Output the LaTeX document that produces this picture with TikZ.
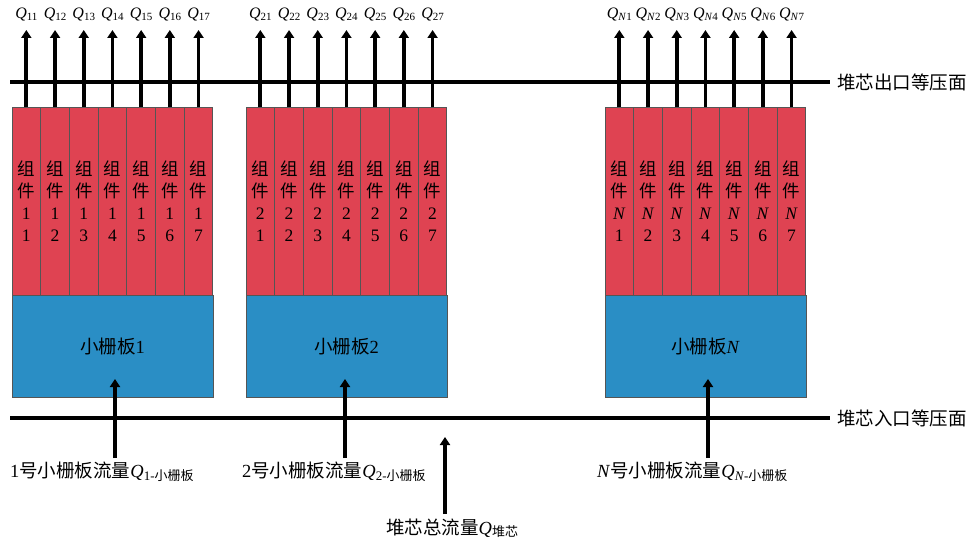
\documentclass[tikz,border=0pt]{standalone}
\usepackage{fontspec}
\setmainfont{Liberation Serif}
\newfontfamily\cjk{Noto Sans CJK SC}
\usetikzlibrary{arrows.meta}
\definecolor{redbox}{HTML}{DF4352}
\definecolor{bluebox}{HTML}{2A8EC5}
\definecolor{edgegray}{HTML}{555555}
\tikzset{
  fuelbox/.style={draw=edgegray, line width=1pt, fill=redbox, minimum width=28.7pt, minimum height=187pt, inner sep=0pt, align=center, font=\fontsize{17.5}{22}\selectfont},
  platebox/.style={draw=edgegray, line width=1pt, fill=bluebox, minimum width=201pt, minimum height=102pt, inner sep=0pt, font=\fontsize{18.5}{20}\selectfont},
  uparrow/.style={line width=3.8pt, -{Triangle[width=10pt,length=8pt]}},
  planeline/.style={line width=3.5pt},
  qlabel/.style={inner sep=0pt, font=\fontsize{16}{16}\selectfont},
  txtlabel/.style={inner sep=0pt, font=\fontsize{18.5}{20}\selectfont}
}
\newcommand{\subsc}[1]{\raisebox{-2pt}{\fontsize{11}{12}\selectfont #1}}
\newcommand{\subsb}[1]{\raisebox{-2.5pt}{\fontsize{13}{14}\selectfont #1}}
\begin{document}
\begin{tikzpicture}[x=1pt,y=-1pt]
\useasboundingbox (0,0) rectangle (971,545);
% planes
\coordinate (outL) at (10,82);
\coordinate (inL) at (10,418);
\node[txtlabel, anchor=west] (outlab) at (837,82) {\cjk 堆芯出口等压面};
\node[txtlabel, anchor=west] (inlab) at (837,418) {\cjk 堆芯入口等压面};
\draw[planeline] (outL) -- ([xshift=-7pt]outlab.west);
\draw[planeline] (inL) -- ([xshift=-7pt]inlab.west);
% groups
\foreach \g/\x/\lab in {1/12/1, 2/246/2, 3/605/{\textit{N}}}{
  \node[platebox] (b\g) at (\x+100.5,346) {{\cjk 小栅板}\lab};
  \foreach \i in {1,...,7}{
    \node[fuelbox] (c\g\i) at (\x+\i*28.7-14.35,201.5) {{\cjk 组}\\{\cjk 件}\\\lab\\\i};
    \coordinate (t\g\i) at (\x+\i*28.7-14.35,30);
    \node[qlabel] (q\g\i) at (\x+\i*28.7-14.35,15) {\textit{Q}\subsc{\lab\i}};
    \draw[uparrow] (c\g\i.north) -- (t\g\i);
  }
}
% bottom flows
\coordinate (e1) at (115,379);
\coordinate (e2) at (345,379);
\coordinate (e3) at (708,379);
\coordinate (et) at (445,437);
\node[txtlabel, anchor=west] (l1) at (10,472) {1{\cjk 号小栅板流量}\textit{Q}\subsb{1-{\cjk 小栅板}}};
\node[txtlabel, anchor=west] (l2) at (242,472) {2{\cjk 号小栅板流量}\textit{Q}\subsb{2-{\cjk 小栅板}}};
\node[txtlabel, anchor=west] (l3) at (597,472) {\textit{N}{\cjk 号小栅板流量}\textit{Q}\subsb{\textit{N}-{\cjk 小栅板}}};
\node[txtlabel, anchor=west] (lt) at (386,528) {{\cjk 堆芯总流量}\textit{Q}\subsb{\cjk 堆芯}};
\draw[uparrow] ([yshift=4pt]l1.north -| e1) -- (e1);
\draw[uparrow] ([yshift=4pt]l2.north -| e2) -- (e2);
\draw[uparrow] ([yshift=4pt]l3.north -| e3) -- (e3);
\draw[uparrow] ([yshift=4pt]lt.north -| et) -- (et);
\end{tikzpicture}
\end{document}
